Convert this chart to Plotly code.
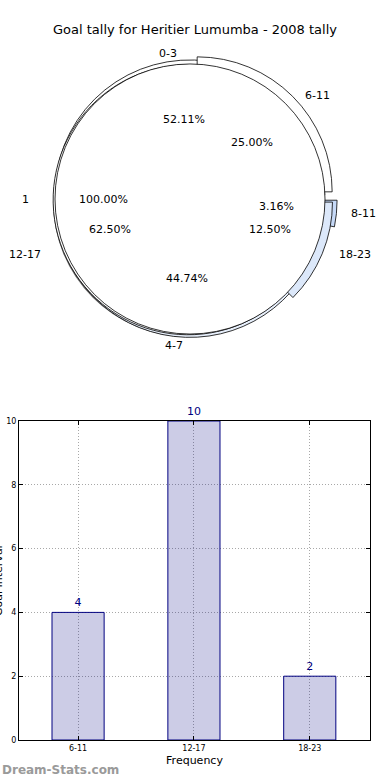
import math
import plotly.graph_objects as go

# ---------------- data ----------------
title_text = "Goal tally for Heritier Lumumba - 2008 tally"

pie_a_labels = ["0-3", "4-7", "8-11"]
pie_a_values = [52.11, 44.74, 3.16]

pie_b_labels = ["6-11", "12-17", "18-23"]
pie_b_values = [25.00, 62.50, 12.50]

pie_c_labels = ["1"]
pie_c_values = [100.00]

bar_categories = ["6-11", "12-17", "18-23"]
bar_values = [4, 10, 2]
y_ticks = [0, 2, 4, 6, 8, 10]

# ---------------- styles / layout ----------------
W, H = 390, 780
FONT = "DejaVu Sans"
pie_cx, pie_cy, pie_r = 190, 199, 135   # pixel geometry of pie
text_rx, text_ry = 145, 133             # radii used to place pie texts (original was elliptic)

pie_a_pull = [0.03, 0.025, 0.09]
pie_b_pull = [0.075, 0.015, 0.06]
pie_c_pull = [0.0]
pie_a_colors = ["white", "#e8f0fc", "#c6d9f7"]
pie_b_colors = ["white", "white", "#dce8fa"]
pie_c_colors = ["white"]


def pie_domain(pull, dx=0, dy=0):
    half = pie_r * (1 + max(pull))
    cx, cy = pie_cx + dx, pie_cy + dy
    return dict(x=[(cx - half) / W, (cx + half) / W],
                y=[1 - (cy + half) / H, 1 - (cy - half) / H])


fig = go.Figure()

# soft shadow under the stacked pies
fig.add_trace(go.Pie(
    labels=pie_c_labels, values=pie_c_values, sort=False, textinfo="none",
    showlegend=False, marker=dict(colors=["rgba(60,60,60,0.75)"], line=dict(width=0)),
    domain=pie_domain(pie_c_pull, dx=-2, dy=3), hoverinfo="skip",
))

annotations = []
for labels, values, pull, colors in [
    (pie_a_labels, pie_a_values, pie_a_pull, pie_a_colors),
    (pie_b_labels, pie_b_values, pie_b_pull, pie_b_colors),
    (pie_c_labels, pie_c_values, pie_c_pull, pie_c_colors),
]:
    total = sum(values)
    # plotly ccw: first slice ends at the rotation line; make it start at 3 o'clock
    rot = 90 - 360 * values[0] / total
    fig.add_trace(go.Pie(
        labels=labels, values=values, sort=False, direction="counterclockwise",
        rotation=rot, pull=pull, textinfo="none", showlegend=False,
        marker=dict(colors=colors, line=dict(color="black", width=0.8)),
        domain=pie_domain(pull), hoverinfo="label+value",
    ))
    start = 0.0
    for lab, v in zip(labels, values):
        frac = v / total
        mid = 2 * math.pi * (start + frac / 2)
        start += frac
        c, s = math.cos(mid), math.sin(mid)
        annotations.append(dict(text=f"{v:.2f}%", x=0.6 * c * text_rx, y=0.6 * s * text_ry,
                                xref="x2", yref="y2",
                                xanchor="center", yanchor="middle", showarrow=False,
                                font=dict(family=FONT, size=11, color="black")))
        annotations.append(dict(text=lab, x=1.1 * c * text_rx, y=1.1 * s * text_ry,
                                xref="x2", yref="y2",
                                xanchor="left" if c >= 0 else "right", yanchor="middle",
                                showarrow=False,
                                font=dict(family=FONT, size=11, color="black")))

# bar chart
fig.add_trace(go.Bar(
    x=bar_categories, y=bar_values, width=0.45,
    marker=dict(color="rgba(0,0,128,0.2)", line=dict(color="#000080", width=1)),
    text=[str(v) for v in bar_values], textposition="outside", cliponaxis=False,
    textfont=dict(family=FONT, size=11, color="#000080"),
    showlegend=False, xaxis="x", yaxis="y",
))

# hidden axes in pixels relative to the pie centre, used for placing the pie texts
x2_range = [-pie_cx, W - pie_cx]
y2_dom = [1 - (pie_cy + 190) / H, 1]
y2_range = [-190, pie_cy]
fig.add_trace(go.Scatter(x=x2_range, y=y2_range, mode="markers", marker=dict(opacity=0),
                         xaxis="x2", yaxis="y2", showlegend=False, hoverinfo="skip"))

annotations += [
    dict(text=title_text, xref="paper", yref="paper", x=0.5, y=1 - 30 / H,
         xanchor="center", yanchor="middle", showarrow=False,
         font=dict(family=FONT, size=13, color="black")),
    dict(text="Goal Interval", textangle=-90, xref="paper", yref="paper",
         x=-2 / W, y=1 - 581 / H, xanchor="center", yanchor="middle", showarrow=False,
         font=dict(family=FONT, size=11, color="black")),
    dict(text="<b>Dream-Stats.com</b>", xref="paper", yref="paper",
         x=0, y=1 - 770 / H, xanchor="left", yanchor="middle", showarrow=False,
         font=dict(family=FONT, size=12, color="#9a9a9a")),
]

grid_dash = "1px,2px"
fig.update_layout(
    width=W, height=H,
    margin=dict(l=0, r=0, t=0, b=0, autoexpand=False),
    paper_bgcolor="white", plot_bgcolor="white",
    font=dict(family=FONT, color="black"),
    xaxis=dict(domain=[19 / W, 370 / W], range=[-0.51, 2.52], type="category",
               showline=True, linecolor="black", linewidth=1, mirror="ticks",
               ticks="inside", ticklen=4, tickcolor="black",
               showgrid=True, gridcolor="#a8a8a8", griddash=grid_dash, gridwidth=1,
               tickfont=dict(family=FONT, size=8, color="black"),
               title=dict(text="Frequency", font=dict(family=FONT, size=11), standoff=4),
               zeroline=False, fixedrange=True, automargin=False),
    yaxis=dict(domain=[1 - 740 / H, 1 - 421 / H], range=[0, 10], tickvals=y_ticks,
               showline=True, linecolor="black", linewidth=1, mirror="ticks",
               ticks="inside", ticklen=4, tickcolor="black",
               showgrid=True, gridcolor="#a8a8a8", griddash=grid_dash, gridwidth=1,
               tickfont=dict(family=FONT, size=8, color="black"),
               zeroline=False, fixedrange=True, automargin=False),
    xaxis2=dict(domain=[0, 1], range=x2_range, visible=False, fixedrange=True,
                automargin=False),
    yaxis2=dict(domain=y2_dom, range=y2_range, visible=False, fixedrange=True,
                automargin=False),
    annotations=annotations,
)

fig.write_html("out.html", post_script="document.body.style.margin='0';",
               config={"displayModeBar": False})
